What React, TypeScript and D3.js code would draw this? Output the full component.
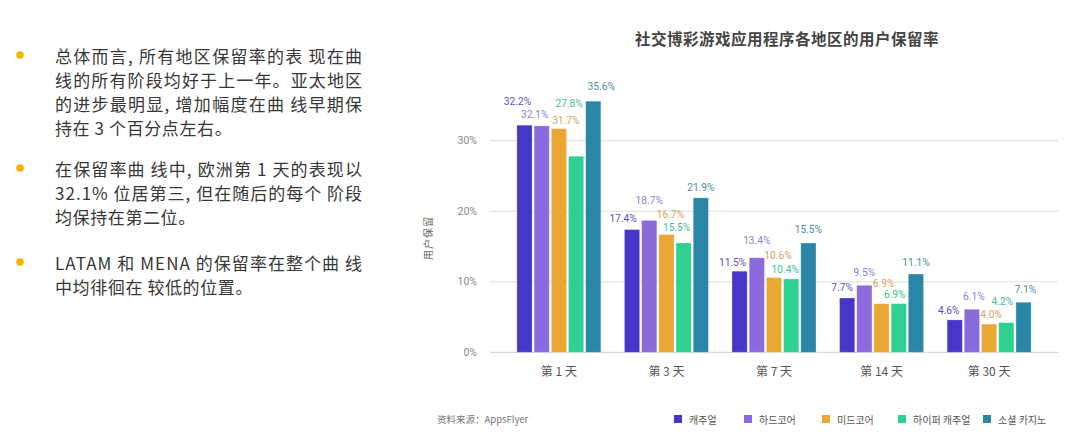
import React from "react";
import * as d3 from "d3";

// ---------- data ----------
const days = ["第 1 天", "第 3 天", "第 7 天", "第 14 天", "第 30 天"];
const seriesNames = ["캐주얼", "하드코어", "미드코어", "하이퍼 캐주얼", "소셜 카지노"];
const casual = [32.2, 17.4, 11.5, 7.7, 4.6];
const hardcore = [32.1, 18.7, 13.4, 9.5, 6.1];
const midcore = [31.7, 16.7, 10.6, 6.9, 4.0];
const hyperCasual = [27.8, 15.5, 10.4, 6.9, 4.2];
const socialCasino = [35.6, 21.9, 15.5, 11.1, 7.1];
const yTicks = [0, 10, 20, 30];

const title = "社交博彩游戏应用程序各地区的用户保留率";
const yTitle = "用户保留";
const source = "资料来源：AppsFlyer";

const paragraphs = [
  ["总体而言, 所有地区保留率的表 现在曲", "线的所有阶段均好于上一年。亚太地区", "的进步最明显, 增加幅度在曲 线早期保", "持在 3 个百分点左右。"],
  ["在保留率曲 线中, 欧洲第 1 天的表现以", "32.1% 位居第三, 但在随后的每个 阶段", "均保持在第二位。"],
  ["LATAM 和 MENA 的保留率在整个曲 线", "中均徘徊在 较低的位置。"],
];

// ---------- styling / layout ----------
const barColors = ["#4637C9", "#8B6BDC", "#EAA734", "#30D093", "#2A86A7"];
const labelColors = ["#5B4FC2", "#8E7FD9", "#D6A25E", "#3FC28F", "#4C8DA6"];
// label de-overlap nudges [dx, dy] per series per day (relative to bar top centre)
const labelNudge = [
  [[-7, -24], [-9, -11], [-7, -9], [-5, -10], [-6, -9]],
  [[-7, -11], [0, -20], [0, -17], [0, -13], [2, -13]],
  [[7, -8], [4, -20], [4, -22], [2, -20], [2, -10]],
  [[-7, -53], [-7, -15], [-6, -9], [-4, -9], [-4, -21]],
  [[8, -15], [0, -10], [0, -13], [0, -12], [2, -13]],
];
const legendX = [674, 744, 822, 898, 983];
const paraY = [[55, 79, 103, 127], [168, 192, 216], [262, 286]];

const W = 1080;
const H = 434;
const plotLeft = 490;
const plotRight = 1058;

export default function App() {
  const series = [casual, hardcore, midcore, hyperCasual, socialCasino];
  const x0 = d3.scaleBand<string>().domain(days).range([plotLeft, plotRight]).paddingInner(0.219).paddingOuter(0.25);
  const x1 = d3.scaleBand<string>().domain(seriesNames).range([0, x0.bandwidth()]).paddingInner(0.115);
  const y = d3.scaleLinear().domain([0, 30]).range([352.3, 140.7]);

  const cjk = "'Noto Sans CJK SC', 'Noto Sans', sans-serif";
  const kr = "'Noto Sans CJK KR', 'Noto Sans', sans-serif";
  const num = "Roboto, 'Noto Sans', sans-serif";

  return (
    <svg width={W} height={H} style={{ position: "absolute", left: 0, top: 0, background: "#fff" }}>
      {/* left bullet text */}
      {paragraphs.map((lines, pi) => (
        <g key={pi}>
          <circle cx={20} cy={paraY[pi][0]} r={3.8} fill="#F9B200" />
          {lines.map((ln, li) => (
            <text
              key={li}
              x={55}
              y={paraY[pi][li]}
              dominantBaseline="central"
              fontFamily={cjk}
              fontSize={17}
              fill="#383838"
              {...(li < lines.length - 1
                ? { textLength: 307, lengthAdjust: "spacing" }
                : { letterSpacing: 0.6 })}
            >
              {ln}
            </text>
          ))}
        </g>
      ))}

      {/* title */}
      <text x={787} y={38} textAnchor="middle" dominantBaseline="central" fontFamily={cjk} fontSize={15.5} fontWeight="bold" fill="#444" letterSpacing={0.5}>
        {title}
      </text>

      {/* grid + y ticks */}
      {yTicks.map((t) => (
        <g key={t}>
          <line x1={plotLeft} x2={plotRight} y1={y(t)} y2={y(t)} stroke={t === 0 ? "#cfcfcf" : "#dedede"} strokeWidth={1} />
          <text x={477} y={y(t)} textAnchor="end" dominantBaseline="central" fontFamily={num} fontSize={10.5} fill="#888">
            {t}%
          </text>
        </g>
      ))}

      {/* y title */}
      <text
        transform={`translate(427,238) rotate(-90)`}
        textAnchor="middle"
        dominantBaseline="central"
        fontFamily={cjk}
        fontSize={10}
        fill="#666"
        letterSpacing={1}
      >
        {yTitle}
      </text>

      {/* bars */}
      {series.map((vals, si) =>
        vals.map((v, di) => {
          const bx = (x0(days[di]) as number) + (x1(seriesNames[si]) as number);
          return (
            <rect
              key={`${si}-${di}`}
              x={bx}
              y={y(v)}
              width={x1.bandwidth()}
              height={y(0) - y(v)}
              fill={barColors[si]}
              stroke="#ffffff"
              strokeOpacity={0.35}
              strokeWidth={0.8}
            />
          );
        })
      )}

      {/* value labels */}
      {series.map((vals, si) =>
        vals.map((v, di) => {
          const cx = (x0(days[di]) as number) + (x1(seriesNames[si]) as number) + x1.bandwidth() / 2;
          const [dx, dy] = labelNudge[si][di];
          return (
            <text
              key={`l-${si}-${di}`}
              x={cx + dx}
              y={y(v) + dy}
              textAnchor="middle"
              dominantBaseline="central"
              fontFamily={num}
              fontSize={10.2}
              fill={labelColors[si]}
            >
              {v.toFixed(1)}%
            </text>
          );
        })
      )}

      {/* x category labels */}
      {days.map((d) => (
        <text
          key={d}
          x={(x0(d) as number) + x0.bandwidth() / 2}
          y={370}
          textAnchor="middle"
          dominantBaseline="central"
          fontFamily={cjk}
          fontSize={12}
          fill="#555"
        >
          {d}
        </text>
      ))}

      {/* source */}
      <text x={437} y={419} dominantBaseline="central" fontFamily={cjk} fontSize={9.5} fill="#777">
        {source}
      </text>

      {/* legend */}
      {seriesNames.map((n, i) => (
        <g key={n}>
          <rect x={legendX[i]} y={415} width={8} height={8} fill={barColors[i]} />
          <text x={legendX[i] + 15} y={419} dominantBaseline="central" fontFamily={kr} fontSize={10} fill="#555">
            {n}
          </text>
        </g>
      ))}
    </svg>
  );
}
